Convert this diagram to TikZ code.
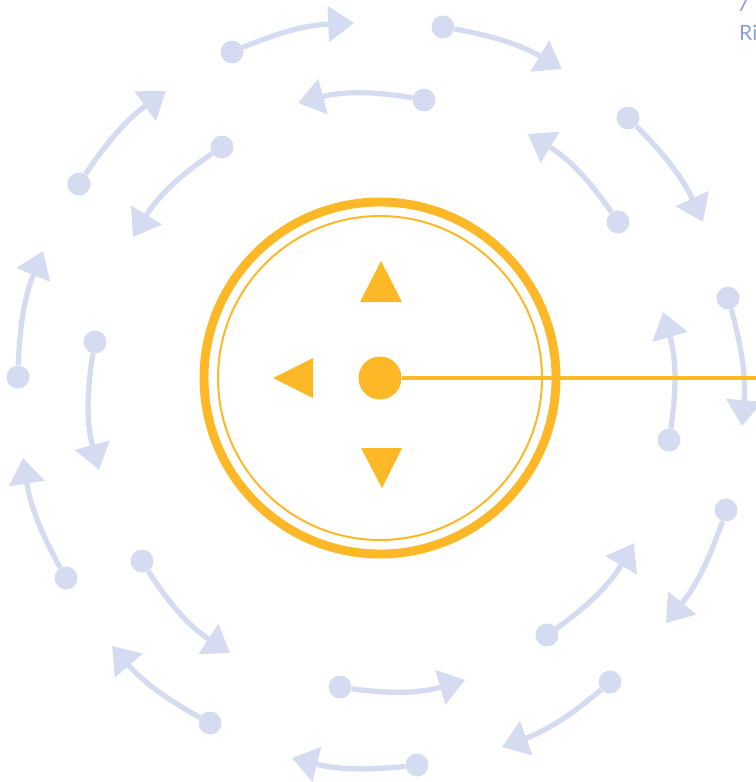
\documentclass[tikz,border=0pt]{standalone}
\usepackage{fontspec}
\setmainfont{Lato}
\usetikzlibrary{arrows.meta}
\definecolor{lilac}{HTML}{D5DBF0}
\definecolor{amber}{HTML}{FDB827}
\definecolor{dusk}{HTML}{8C9ED3}

\begin{document}
\begin{tikzpicture}[
  x=0.03cm, y=-0.03cm,
  >={Triangle[length=22pt,width=30pt]},
  knob/.style={circle, fill=lilac, minimum size=0.69cm, inner sep=0pt},
  orbit/.style={->, draw=lilac, line width=4.5pt},
  hub/.style={circle, fill=amber, minimum size=1.29cm, inner sep=0pt},
  ring/.style={draw=amber},
  caption/.style={font=\fontsize{18}{21}\selectfont, text=dusk,
                  inner sep=0pt, anchor=base west},
]
\useasboundingbox (0,0) rectangle (756,782);

\node[knob] (o1) at (18,377) {};   \coordinate (o1e) at (43,251);
\node[knob] (o2) at (79,184) {};   \coordinate (o2e) at (166,91);
\node[knob] (o3) at (232,52) {};   \coordinate (o3e) at (354,23);
\node[knob] (o4) at (443,27) {};   \coordinate (o4e) at (562,69);
\node[knob] (o5) at (628,118) {};  \coordinate (o5e) at (703,222);
\node[knob] (o6) at (728,298) {};  \coordinate (o6e) at (742,426);
\node[knob] (o7) at (726,510) {};  \coordinate (o7e) at (666,623);
\node[knob] (o8) at (610,682) {};  \coordinate (o8e) at (502,747);
\node[knob] (o9) at (417,765) {};  \coordinate (o9e) at (292,758);
\node[knob] (o10) at (210,723) {}; \coordinate (o10e) at (112,646);
\node[knob] (o11) at (66,578) {};  \coordinate (o11e) at (23,458);

\node[knob] (i1) at (424,100) {};  \coordinate (i1e) at (298,103);
\node[knob] (i2) at (222,147) {};  \coordinate (i2e) at (133,237);
\node[knob] (i3) at (95,342) {};   \coordinate (i3e) at (99,470);
\node[knob] (i4) at (142,561) {};  \coordinate (i4e) at (230,653);
\node[knob] (i5) at (340,687) {};  \coordinate (i5e) at (465,680);
\node[knob] (i6) at (547,635) {};  \coordinate (i6e) at (634,543);
\node[knob] (i7) at (669,440) {};  \coordinate (i7e) at (663,312);
\node[knob] (i8) at (618,222) {};  \coordinate (i8e) at (528,134);

\draw[orbit] (o1) to[bend left=10] (o1e);
\draw[orbit] (o2) to[bend left=10] (o2e);
\draw[orbit] (o3) to[bend left=10] (o3e);
\draw[orbit] (o4) to[bend left=10] (o4e);
\draw[orbit] (o5) to[bend left=10] (o5e);
\draw[orbit] (o6) to[bend left=10] (o6e);
\draw[orbit] (o7) to[bend left=10] (o7e);
\draw[orbit] (o8) to[bend left=10] (o8e);
\draw[orbit] (o9) to[bend left=10] (o9e);
\draw[orbit] (o10) to[bend left=10] (o10e);
\draw[orbit] (o11) to[bend left=10] (o11e);

\draw[orbit] (i1) to[bend right=12] (i1e);
\draw[orbit] (i2) to[bend right=12] (i2e);
\draw[orbit] (i3) to[bend right=12] (i3e);
\draw[orbit] (i4) to[bend right=12] (i4e);
\draw[orbit] (i5) to[bend right=12] (i5e);
\draw[orbit] (i6) to[bend right=12] (i6e);
\draw[orbit] (i7) to[bend right=12] (i7e);
\draw[orbit] (i8) to[bend right=12] (i8e);

\node[hub] (hub) at (380,378) {};
\draw[ring, line width=7.6pt] (hub.center) circle (176);
\draw[ring, line width=1.7pt] (hub.center) circle (162);
\coordinate (rim) at (760,378);
\draw[amber, line width=4.2pt] (hub) -- (rim);

\fill[amber] (381,261) -- (402,302) -- (360,302) -- cycle;
\fill[amber] (382,488) -- (402,448) -- (361,448) -- cycle;
\fill[amber] (273,378) -- (313,358) -- (313,398) -- cycle;

\node[caption] (cap7) at (737,11) {7};
\node[caption] (capR) at (739,40) {Ri};
\end{tikzpicture}
\end{document}
